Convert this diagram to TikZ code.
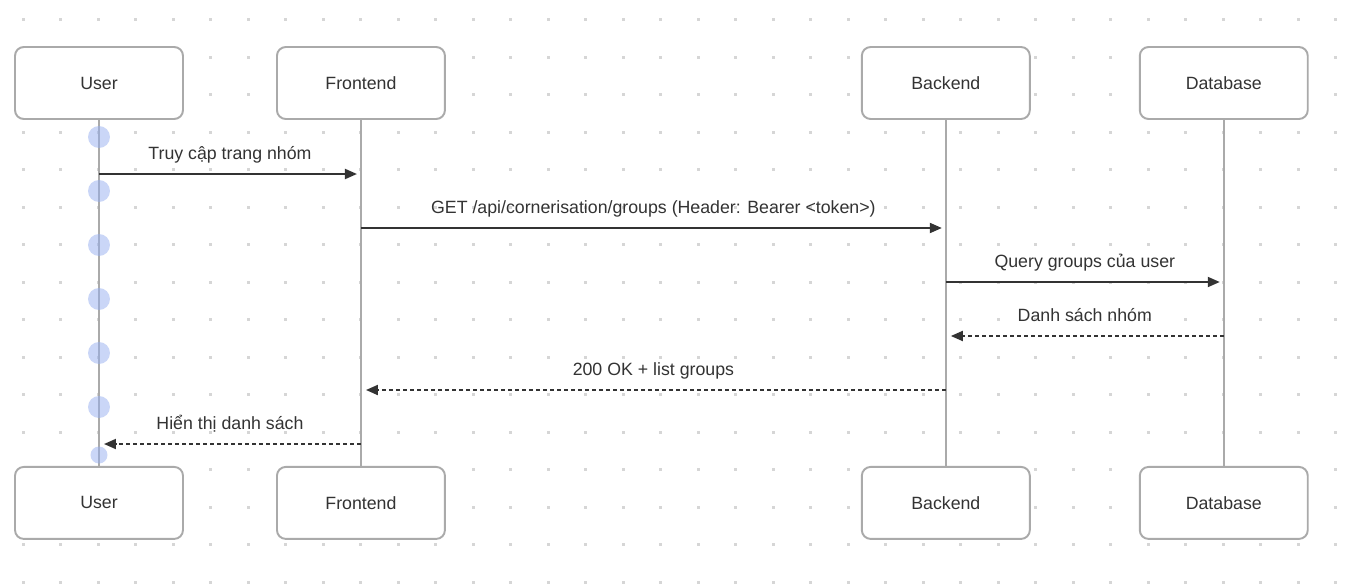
\documentclass[tikz,border=0pt]{standalone}
\usepackage{fontspec}
\setmainfont{Liberation Sans}
\usepackage{tikz}
\usetikzlibrary{arrows.meta,positioning}
\definecolor{boxgray}{RGB}{170,170,170}
\definecolor{inkgray}{RGB}{51,51,51}
\definecolor{dotgray}{RGB}{214,214,214}
\definecolor{actblue}{RGB}{150,175,240}

\begin{document}
\begin{tikzpicture}[x=0.02cm, y=-0.02cm, >={Triangle[length=0.24cm,width=0.2cm]},
    font=\fontsize{10.1}{12}\selectfont, text=inkgray,
    actor/.style={draw=boxgray, line width=1.1pt, rounded corners=5pt, fill=white, outer sep=0pt,
      minimum width=3.36cm, minimum height=1.44cm},
    lifeline/.style={draw=boxgray, line width=1.1pt},
    msg/.style={->, draw=inkgray, line width=1.1pt, shorten >=0.08cm},
    reply/.style={msg, dash pattern=on 0.08cm off 0.06cm, shorten >=0.1cm},
    lbl/.style={midway, yshift=0.4cm, text height=1.5ex, text depth=.25ex, inner sep=0pt},
    act/.style={circle, fill=actblue, fill opacity=0.5, inner sep=0pt, minimum size=0.44cm}]
  \useasboundingbox[fill=white] (0,0) rectangle (1357,585);
  % dotted canvas
  \foreach \i in {0,...,35}
    \foreach \j in {0,...,15}
      \fill[dotgray] ({23+37.5*\i-1.5},{19.5+37.5*\j-1.5}) rectangle +(3,3);

  % participants
  \node[actor] (userTop) at (99,83) {User};
  \node[actor, right=1.88cm of userTop] (frontTop) {Frontend};
  \node[actor, right=8.34cm of frontTop] (backTop) {Backend};
  \node[actor, right=2.2cm of backTop] (dbTop) {Database};
  \node[actor, below=6.96cm of userTop] (userBot) {User};
  \node[actor, below=6.96cm of frontTop] (frontBot) {Frontend};
  \node[actor, below=6.96cm of backTop] (backBot) {Backend};
  \node[actor, below=6.96cm of dbTop] (dbBot) {Database};

  \draw[lifeline] (userTop) -- (userBot);
  \draw[lifeline] (frontTop) -- (frontBot);
  \draw[lifeline] (backTop) -- (backBot);
  \draw[lifeline] (dbTop) -- (dbBot);

  % activation marks on the user lifeline
  \foreach \k in {0,...,5}
    \node[act] (act\k) at (99,{137+54*\k}) {};
  \node[act, minimum size=0.34cm] (actEnd) at (99,455) {};

  % message rows
  \coordinate (row1) at (0,174);
  \coordinate (row2) at (0,228);
  \coordinate (row3) at (0,282);
  \coordinate (row4) at (0,336);
  \coordinate (row5) at (0,390);
  \coordinate (row6) at (0,444);

  \draw[msg] (userTop |- row1) -- (frontTop |- row1) node[lbl] {Truy cập trang nhóm};
  \draw[msg] (frontTop |- row2) -- (backTop |- row2) node[lbl] {GET /api/cornerisation/groups (Header: Bearer <token>)};
  \draw[msg] (backTop |- row3) -- (dbTop |- row3) node[lbl] {Query groups của user};
  \draw[reply] (dbTop |- row4) -- (backTop |- row4) node[lbl] {Danh sách nhóm};
  \draw[reply] (backTop |- row5) -- (frontTop |- row5) node[lbl] {200 OK + list groups};
  \draw[reply] (frontTop |- row6) -- (userTop |- row6) node[lbl] {Hiển thị danh sách};
\end{tikzpicture}
\end{document}
